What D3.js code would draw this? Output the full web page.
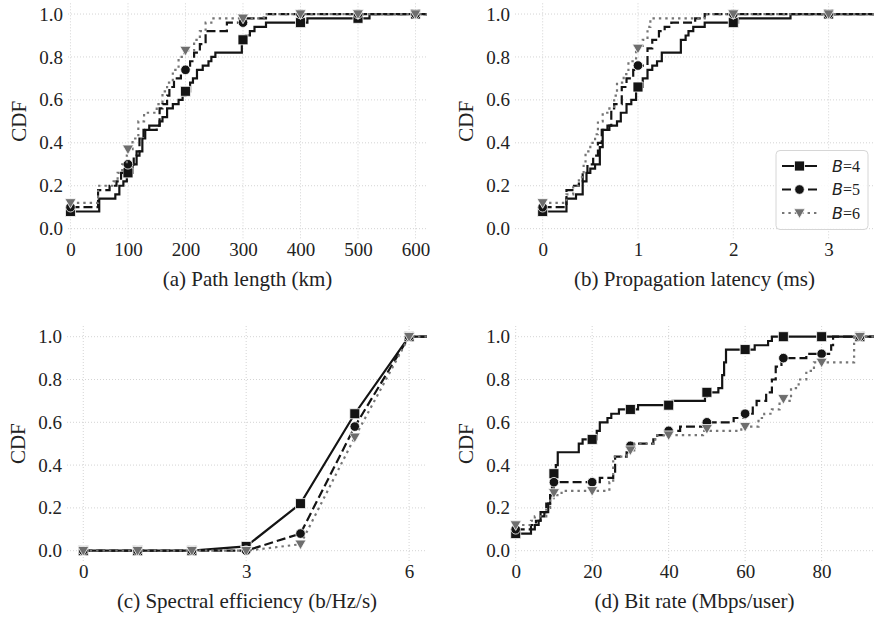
<!DOCTYPE html>
<html><head><meta charset="utf-8">
<script src="https://cdn.jsdelivr.net/npm/d3@7"></script>
<style>body{margin:0;background:#fff}svg{display:block}
.serif{font-family:"Liberation Serif","Times New Roman",Times,"Nimbus Roman","DejaVu Serif",serif}
</style>
</head><body><svg id="c" width="874" height="617"></svg>
<script>
// ---------- DATA ----------
const seriesLabels = ["4", "5", "6"]; // B = 4, 5, 6
const yTicks = [0, 0.2, 0.4, 0.6, 0.8, 1.0];

// (a) Path length (km): step CDF breakpoints [x, cdf]
const pathTicks = [0, 100, 200, 300, 400, 500, 600];
const pathB4 = [[0,0.08],[50,0.14],[78,0.16],[85,0.2],[92,0.22],[98,0.26],[108,0.3],[115,0.34],[120,0.36],[125,0.42],[130,0.46],[137,0.48],[155,0.5],[160,0.52],[168,0.56],[178,0.58],[188,0.6],[195,0.62],[200,0.64],[208,0.68],[213,0.7],[220,0.74],[230,0.76],[240,0.78],[245,0.8],[252,0.82],[298,0.88],[305,0.9],[312,0.92],[320,0.94],[340,0.96],[412,0.98],[520,1.0],[700,1.0]];
const pathB5 = [[0,0.10],[48,0.18],[68,0.2],[80,0.22],[88,0.26],[95,0.3],[110,0.34],[115,0.36],[120,0.42],[127,0.46],[150,0.48],[155,0.56],[160,0.58],[168,0.62],[172,0.66],[180,0.7],[192,0.72],[198,0.74],[208,0.78],[215,0.82],[225,0.86],[235,0.92],[272,0.96],[300,0.98],[340,1.0],[700,1.0]];
const pathB6 = [[0,0.12],[48,0.2],[75,0.22],[82,0.26],[90,0.3],[98,0.37],[108,0.42],[118,0.5],[128,0.54],[150,0.58],[160,0.64],[168,0.68],[178,0.74],[188,0.8],[198,0.83],[215,0.88],[225,0.92],[235,0.96],[245,0.98],[336,1.0],[700,1.0]];
const pathMarkB4 = [0.08,0.26,0.64,0.88,0.96,0.98,1.0];
const pathMarkB5 = [0.10,0.30,0.74,0.96,1.0,1.0,1.0];
const pathMarkB6 = [0.12,0.37,0.83,0.98,1.0,1.0,1.0];

// (b) Propagation latency (ms)
const latTicks = [0, 1, 2, 3];
const latB4 = [[0,0.08],[0.25,0.14],[0.35,0.16],[0.42,0.22],[0.46,0.26],[0.5,0.28],[0.55,0.3],[0.6,0.38],[0.63,0.46],[0.7,0.48],[0.78,0.5],[0.82,0.54],[0.88,0.58],[0.93,0.6],[0.98,0.66],[1.05,0.7],[1.1,0.74],[1.15,0.76],[1.2,0.78],[1.25,0.82],[1.45,0.88],[1.5,0.9],[1.53,0.92],[1.58,0.94],[1.7,0.96],[2.05,0.98],[2.6,1.0],[4,1.0]];
const latB5 = [[0,0.10],[0.25,0.18],[0.33,0.2],[0.38,0.22],[0.42,0.26],[0.47,0.3],[0.53,0.34],[0.58,0.4],[0.62,0.46],[0.68,0.48],[0.72,0.56],[0.75,0.58],[0.83,0.66],[0.88,0.7],[0.95,0.74],[1.0,0.76],[1.1,0.84],[1.15,0.88],[1.22,0.92],[1.28,0.94],[1.35,0.96],[1.6,0.98],[1.7,1.0],[4,1.0]];
const latB6 = [[0,0.12],[0.25,0.16],[0.32,0.2],[0.38,0.24],[0.43,0.3],[0.45,0.36],[0.5,0.4],[0.55,0.44],[0.58,0.5],[0.63,0.54],[0.7,0.56],[0.75,0.62],[0.78,0.68],[0.85,0.72],[0.9,0.78],[0.98,0.84],[1.05,0.88],[1.1,0.94],[1.13,0.98],[1.7,1.0],[4,1.0]];
const latMarkB4 = [0.08,0.66,0.96,1.0];
const latMarkB5 = [0.10,0.76,1.0,1.0];
const latMarkB6 = [0.12,0.84,1.0,1.0];

// (c) Spectral efficiency (b/Hz/s): points at 0..7
const seX = [0, 1, 2, 3, 4, 5, 6, 7];
const seTicks = [0, 3, 6];
const seB4 = [0, 0, 0, 0.02, 0.22, 0.64, 1.0, 1.0];
const seB5 = [0, 0, 0, 0, 0.08, 0.58, 1.0, 1.0];
const seB6 = [0, 0, 0, 0, 0.03, 0.53, 1.0, 1.0];

// (d) Bit rate (Mbps/user)
const rateTicks = [0, 20, 40, 60, 80];
const rateMarkX = [0, 10, 20, 30, 40, 50, 60, 70, 80, 90];
const rateB4 = [[0,0.08],[4,0.1],[5,0.12],[6,0.14],[6.5,0.16],[7.5,0.18],[8.5,0.22],[9,0.26],[9.5,0.3],[10,0.36],[10.5,0.4],[11,0.46],[16.5,0.5],[17.5,0.52],[21.2,0.56],[22,0.6],[24,0.62],[25,0.64],[27,0.66],[32,0.68],[41,0.7],[49.5,0.72],[50,0.74],[53,0.76],[54,0.82],[54.5,0.88],[55,0.94],[62.5,0.96],[66,0.98],[67,1.0],[100,1.0]];
const rateB5 = [[0,0.1],[4,0.12],[5.3,0.14],[6.5,0.18],[8,0.22],[9,0.26],[10,0.32],[22,0.34],[25.5,0.36],[26,0.44],[29,0.46],[30,0.48],[31,0.5],[36,0.52],[37,0.54],[39,0.56],[43,0.58],[49,0.6],[57,0.62],[60,0.64],[62,0.68],[63,0.7],[65.5,0.74],[67,0.8],[68,0.86],[69.5,0.9],[76,0.92],[82.5,0.96],[83,1.0],[100,1.0]];
const rateB6 = [[0,0.12],[4,0.14],[5,0.16],[8,0.2],[9,0.24],[10,0.26],[12,0.28],[24.5,0.32],[25.5,0.44],[29,0.46],[31,0.5],[36,0.52],[37,0.54],[49,0.56],[59,0.58],[63.5,0.62],[65,0.64],[67,0.66],[69,0.7],[72,0.76],[74,0.8],[76,0.84],[78,0.88],[88.5,1.0],[100,1.0]];
const rateMarkB4 = [0.08,0.36,0.52,0.66,0.68,0.74,0.94,1.0,1.0,1.0];
const rateMarkB5 = [0.10,0.32,0.32,0.49,0.56,0.60,0.64,0.90,0.92,1.0];
const rateMarkB6 = [0.12,0.27,0.28,0.47,0.54,0.57,0.58,0.71,0.88,1.0];

// ---------- DRAW ----------
const svg = d3.select("#c");
const styles = [
  {stroke:"#141414", dash:null, marker:"square", fill:"#141414"},
  {stroke:"#141414", dash:"9,4", marker:"circle", fill:"#141414"},
  {stroke:"#767676", dash:"2.4,4", marker:"tri", fill:"#6e6e6e"}
];
const LW = 2.2;

function markerPath(kind){
  if(kind==="square") return d3.symbol(d3.symbolSquare, 100)();
  if(kind==="circle") return d3.symbol(d3.symbolCircle, 72)();
  return "M-5.6,-4.2L5.6,-4.2L0,5.4Z";
}

const panels = [
  {id:"a", L:68, R:427, T:3.3, B:239.4, xd:[-4.3,620], ticks:pathTicks, label:"(a) Path length (km)",
   step:[pathB4,pathB5,pathB6], markX:pathTicks, marks:[pathMarkB4,pathMarkB5,pathMarkB6]},
  {id:"b", L:515, R:874, T:3.3, B:239.4, xd:[-0.29,3.476], ticks:latTicks, label:"(b) Propagation latency (ms)",
   step:[latB4,latB5,latB6], markX:latTicks, marks:[latMarkB4,latMarkB5,latMarkB6], legend:true},
  {id:"c", L:67, R:427, T:326, B:561.4, xd:[-0.3,6.33], ticks:seTicks, label:"(c) Spectral efficiency (b/Hz/s)",
   lineX:seX, lines:[seB4,seB5,seB6]},
  {id:"d", L:515, R:874, T:326, B:561.4, xd:[-0.18,93.7], ticks:rateTicks, label:"(d) Bit rate (Mbps/user)",
   step:[rateB4,rateB5,rateB6], markX:rateMarkX, marks:[rateMarkB4,rateMarkB5,rateMarkB6]}
];

panels.forEach(p => {
  const x = d3.scaleLinear().domain(p.xd).range([p.L, p.R]);
  const y = d3.scaleLinear().domain([-0.05, 1.05]).range([p.B, p.T]);
  const g = svg.append("g");
  svg.append("clipPath").attr("id","clip"+p.id).append("rect")
    .attr("x",p.L).attr("y",p.T-8).attr("width",p.R-p.L).attr("height",p.B-p.T+16);

  // grid
  g.append("g").selectAll("line").data(yTicks).join("line")
    .attr("x1",p.L).attr("x2",p.R).attr("y1",d=>y(d)).attr("y2",d=>y(d))
    .attr("stroke","#cfcfcf").attr("stroke-width",0.9).attr("stroke-dasharray","1,2");
  g.append("g").selectAll("line").data(p.ticks).join("line")
    .attr("y1",p.T).attr("y2",p.B).attr("x1",d=>x(d)).attr("x2",d=>x(d))
    .attr("stroke","#cfcfcf").attr("stroke-width",0.9).attr("stroke-dasharray","1,2");

  // axes
  const ax = g.append("g").attr("transform",`translate(0,${p.B})`)
    .call(d3.axisBottom(x).tickValues(p.ticks).tickFormat(d3.format("d")).tickSize(0).tickPadding(3));
  const ay = g.append("g").attr("transform",`translate(${p.L},0)`)
    .call(d3.axisLeft(y).tickValues(yTicks).tickFormat(d3.format(".1f")).tickSize(0).tickPadding(5));
  [ax,ay].forEach(a=>{ a.attr("font-family",null).attr("font-size",null);
    a.select(".domain").remove();
    a.selectAll("text").attr("class","serif").style("font-size","19px").attr("fill","#222"); });

  // labels
  g.append("text").attr("class","serif").attr("x",(p.L+p.R)/2).attr("y",p.B+47).attr("text-anchor","middle")
    .style("font-size","21px").attr("fill","#222").text(p.label);
  g.append("text").attr("class","serif").attr("transform",`translate(${p.L-49},${(p.T+p.B)/2}) rotate(-90)`)
    .attr("text-anchor","middle").attr("dy","0.35em")
    .style("font-size","21px").attr("fill","#222").text("CDF");

  // series
  const plot = g.append("g");
  for(let i=0;i<3;i++){
    const s = styles[i];
    let lineData, markData;
    if(p.step){
      lineData = p.step[i];
      markData = p.markX.map((mx,j)=>[mx,p.marks[i][j]]);
    } else {
      lineData = p.lineX.map((v,j)=>[v,p.lines[i][j]]);
      markData = lineData.filter(d=>d[0]<=6);
    }
    const gen = d3.line().x(d=>x(d[0])).y(d=>y(d[1]))
      .curve(p.step ? d3.curveStepAfter : d3.curveLinear);
    plot.append("path").datum(lineData).attr("d",gen)
      .attr("clip-path",`url(#clip${p.id})`)
      .attr("fill","none").attr("stroke",s.stroke).attr("stroke-width",LW)
      .attr("stroke-dasharray",s.dash).attr("stroke-linejoin","miter");
    plot.append("g").selectAll("path").data(markData).join("path")
      .attr("transform",d=>`translate(${x(d[0])},${y(d[1])})`)
      .attr("d",markerPath(s.marker)).attr("fill",s.fill)
      .attr("stroke","#fff").attr("stroke-width",0.8);
  }

  if(p.legend){
    const lg = g.append("g").attr("transform","translate(776,150.5)");
    lg.append("rect").attr("width",92).attr("height",79).attr("rx",4)
      .attr("fill","#fff").attr("fill-opacity",0.85).attr("stroke","#d6d6d6").attr("stroke-width",1);
    seriesLabels.forEach((lab,i)=>{
      const s = styles[i];
      const ry = 15.5 + i*23.5;
      lg.append("line").attr("x1",6).attr("x2",41).attr("y1",ry).attr("y2",ry)
        .attr("stroke",s.stroke).attr("stroke-width",LW).attr("stroke-dasharray",s.dash);
      lg.append("path").attr("transform",`translate(23.5,${ry})`).attr("d",markerPath(s.marker))
        .attr("fill",s.fill).attr("stroke","#fff").attr("stroke-width",0.8);
      const t = lg.append("text").attr("x",56).attr("y",ry+5.5).attr("fill","#222").style("font-size","16px");
      t.append("tspan").style("font-family","'DejaVu Sans',sans-serif").style("font-style","italic").text("B");
      t.append("tspan").attr("class","serif").text("=" + lab);
    });
  }
});
</script>
</body></html>
